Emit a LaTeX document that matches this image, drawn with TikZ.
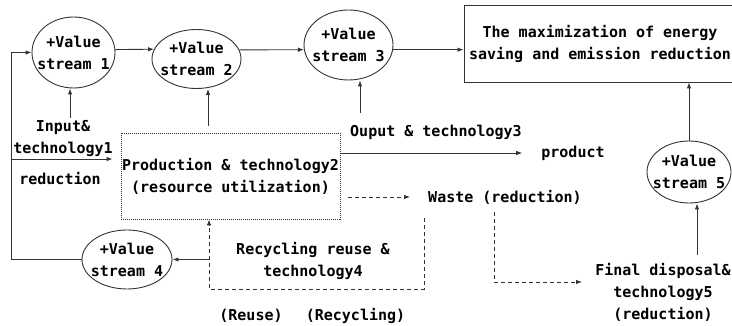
\documentclass[tikz,border=0pt]{standalone}
\usepackage{fontspec}
\setmainfont{DejaVu Sans Mono}
\usetikzlibrary{shapes.geometric,arrows.meta,calc}
\begin{document}
\begin{tikzpicture}[x=1pt,y=-1pt,
  txt/.style={font=\fontsize{15}{22}\selectfont\bfseries, align=center, inner sep=0pt, text=black},
  vs/.style={draw=black!80, line width=0.9pt, ellipse, inner sep=0pt},
  arr/.style={draw=black!80, line width=0.9pt, -{Latex[length=6pt,width=4.5pt]}},
  dasharr/.style={arr, dash pattern=on 4pt off 3pt},
  dotbox/.style={draw=black!80, line width=0.8pt, dash pattern=on 1pt off 1pt}
]
\clip (0,0) rectangle (732,326);

% value-stream ellipses
\node[vs, minimum width=83pt, minimum height=71pt, label={[txt]center:{+Value\\stream 1}}] (e1) at (73.5,52.5) {};
\node[vs, minimum width=89pt, minimum height=59pt, label={[txt]center:{+Value\\stream 2}}] (e2) at (196.5,59) {};
\node[vs, minimum width=89pt, minimum height=70pt, label={[txt]center:{+Value\\stream 3}}] (e3) at (348.5,45) {};
\node[vs, minimum width=90pt, minimum height=59pt, label={[txt]center:{+Value\\stream 4}}] (e4) at (127,259.5) {};
\node[vs, minimum width=84pt, minimum height=62pt, label={[txt]center:{+Value\\stream 5}}] (e5) at (689,172) {};

% goal box (runs past the right edge) and production box
\node[draw=black!80, line width=0.9pt, minimum width=279pt, minimum height=77pt] (goal) at (603.5,43.5) {};
\node[txt] (goaltxt) at (600,44) {The maximization of energy\\saving and emission reduction};
\node[dotbox, minimum width=219pt, minimum height=86pt, txt] (prod) at (230.5,176)
  {Production \& technology2\\(resource utilization)};

% free-standing labels
\node[txt] (inlab) at (63,138) {Input\&\\technology1};
\node[txt] (red1) at (60,179) {reduction};
\node[txt] (outlab) at (436,132) {Ouput \& technology3};
\node[txt] (product) at (573,153) {product};
\node[txt] (waste) at (505,197) {Waste (reduction)};
\node[txt] (rec) at (313,261) {Recycling reuse \&\\technology4};
\node[txt] (reuse) at (251,316) {(Reuse)};
\node[txt] (recyc) at (355.5,316) {(Recycling)};
\node[txt] (fin) at (663,292) {Final disposal\&\\technology5\\(reduction)};

% chain of value streams
\draw[arr] (e1.4) -- (e2.167);
\draw[arr] (e2.12) -- (e3.186);
\draw[arr] (e3.354) -- (e3.354 -| goal.west);

% feedback loop on the left
\draw[arr] (e4.west) -- ++(-70,0) |- (e1.west);
\coordinate (inp) at (12,159);
\draw[arr] (inp) -- ([xshift=-8pt]inp -| prod.west);

% vertical feeds into the value streams
\coordinate (up1) at (70,118);
\draw[arr] (up1) -- (up1 |- e1.south);
\coordinate (up2) at (208,126);
\draw[arr] (up2) -- (up2 |- e2.south);
\coordinate (up3) at (360,113);
\draw[arr] (up3) -- (up3 |- e3.south);

% outputs of production
\draw[arr] (prod.east |- product) -- ([xshift=-19pt]product.west);
\draw[dasharr] ([xshift=8pt]prod.east |- waste) -- ([xshift=-18pt]waste.west);
\coordinate (w1) at (494,212);
\coordinate (w2) at (582,282);
\draw[dasharr] (w1) |- (w2);

% final disposal to goal
\coordinate (up5) at (697,255);
\draw[arr] (up5) -- (up5 |- e5.south);
\draw[arr] (e5.north) -- (e5.north |- goal.south);

% recycling loop
\coordinate (r1) at (424,218);
\coordinate (rc) at (209,289);
\draw[dasharr] (r1) |- (rc) -- (rc |- prod.south);
\draw[arr] (rc |- e4.east) -- (e4.east);
\end{tikzpicture}
\end{document}
